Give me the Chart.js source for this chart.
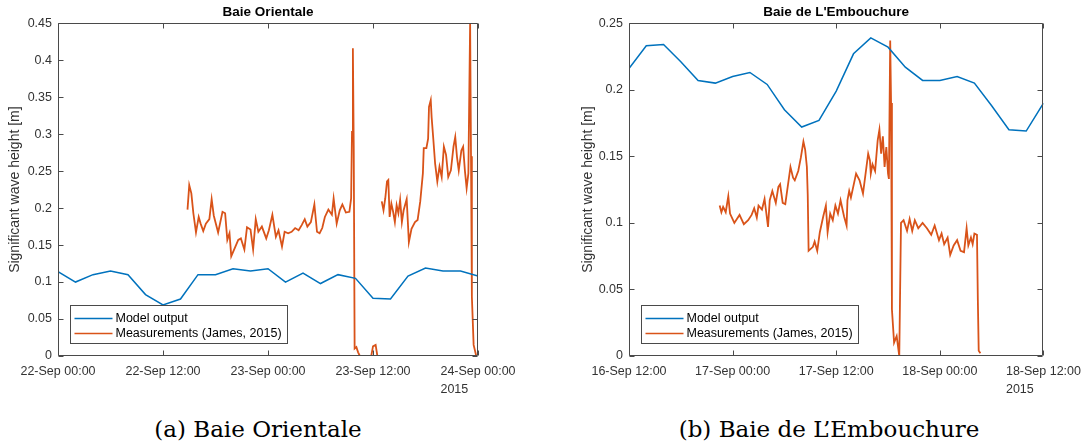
<!DOCTYPE html>
<html>
<head>
<meta charset="utf-8">
<script src="https://cdn.jsdelivr.net/npm/chart.js@4.4.1/dist/chart.umd.min.js"></script>
<style>
  body { margin: 0; background: #fff; }
  #wrap { position: relative; width: 1089px; height: 446px; overflow: hidden; }
  .panel { position: absolute; top: 0; }
  .caption { position: absolute; top: 417px; font-family: 'DejaVu Serif', serif; font-size: 23px; line-height: 24px; text-align: center; color: #000; white-space: nowrap; }
</style>
</head>
<body>
<div id="wrap">
  <canvas id="left" class="panel" width="545" height="400" style="left:0"></canvas>
  <canvas id="right" class="panel" width="544" height="400" style="left:545px"></canvas>
  <div class="caption" style="left:0;width:516px">(a) Baie Orientale</div>
  <div class="caption" style="left:600px;width:458px">(b) Baie de L’Embouchure</div>
</div>
<script>
const BLUE = '#0072BD';
const ORANGE = '#D95319';
const AXIS = '#333';

const seriesLabels = ['Model output', 'Measurements (James, 2015)'];
const yearLabel = '2015';

// hours since the first x tick
const modelHours = [0, 2, 4, 6, 8, 10, 12, 14, 16, 18, 20, 22, 24, 26, 28, 30, 32, 34, 36, 38, 40, 42, 44, 46, 48];

// Baie Orientale
const orientaleTicks = ['22-Sep 00:00', '22-Sep 12:00', '23-Sep 00:00', '23-Sep 12:00', '24-Sep 00:00'];
const orientaleModel = [0.114, 0.100, 0.110, 0.115, 0.110, 0.083, 0.069, 0.077, 0.110, 0.110, 0.118, 0.115, 0.118,
  0.100, 0.112, 0.098, 0.110, 0.105, 0.078, 0.077, 0.108, 0.119, 0.115, 0.115, 0.108];
const orientaleMeasHours = [14.8, 15.0, 15.24, 15.47, 15.77, 16.08, 16.3, 16.6, 16.9, 17.3, 17.56, 17.8, 18.3, 18.8, 19.1,
  19.35, 19.6, 19.8, 20.2, 20.6, 20.9, 21.3, 21.6, 22.0, 22.3, 22.6, 22.9, 23.3, 23.8, 24.1, 24.5, 24.9, 25.2, 25.6,
  25.9, 26.3, 26.7, 27.1, 27.5, 27.85, 28.2, 28.5, 28.9, 29.3, 29.6, 29.9, 30.2, 30.5, 30.9, 31.3, 31.5, 31.85, 32.2,
  32.5, 32.9, 33.3, 33.5, 33.6, 33.7, 33.8, 33.9, 34.1, 34.3, 34.5, 35.8, 36.0, 36.3, 36.5, 36.7,
  37.0, 37.2, 37.4, 37.6, 37.75, 37.9, 38.1, 38.3, 38.5, 38.7, 38.9, 39.1, 39.3, 39.5, 39.85, 40.1, 40.4, 40.8, 41.1,
  41.4, 41.7, 41.8, 42.1, 42.3, 42.4, 42.6, 42.7, 42.9, 43.1, 43.35, 43.6, 43.85, 44.1, 44.35, 44.6, 44.9, 45.2, 45.4,
  45.6, 45.8, 46.1, 46.3, 46.5, 46.7, 46.9, 47.0, 47.1, 47.2, 47.3, 47.5, 47.8];
const orientaleMeas = [0.198, 0.231, 0.220, 0.193, 0.167, 0.188, 0.179, 0.169, 0.179, 0.185, 0.212, 0.190, 0.167, 0.195, 0.193,
  0.157, 0.166, 0.135, 0.146, 0.157, 0.159, 0.144, 0.174, 0.171, 0.144, 0.185, 0.168, 0.175, 0.159, 0.170, 0.191, 0.161, 0.170, 0.148,
  0.168, 0.166, 0.168, 0.173, 0.170, 0.177, 0.185, 0.175, 0.181, 0.205, 0.168, 0.166, 0.173, 0.188, 0.198, 0.191, 0.213, 0.179, 0.197,
  0.205, 0.194, 0.195, 0.213, 0.303, 0.416, 0.280, 0.010, 0.012, 0.005, 0, 0, 0.013, 0.015, 0, null,
  0.209, 0.197, 0.213, 0.236, 0.238, 0.188, 0.206, 0.195, 0.181, 0.204, 0.193, 0.211, 0.181, 0.197, 0.212, 0.154, 0.172, 0.181, 0.184,
  0.209, 0.247, 0.281, 0.281, 0.294, 0.337, 0.346, 0.323, 0.292, 0.260, 0.236, 0.256, 0.242, 0.283, 0.272, 0.242, 0.251, 0.283, 0.296,
  0.269, 0.251, 0.278, 0.283, 0.251, 0.227, 0.247, 0.350, 0.450, 0.270, 0.080, 0.015, 0];

// Baie de L'Embouchure
const embouchureTicks = ['16-Sep 12:00', '17-Sep 00:00', '17-Sep 12:00', '18-Sep 00:00', '18-Sep 12:00'];
const embouchureModel = [0.216, 0.233, 0.234, 0.221, 0.207, 0.205, 0.210, 0.213, 0.204, 0.185, 0.172, 0.177, 0.199,
  0.227, 0.239, 0.232, 0.217, 0.207, 0.207, 0.210, 0.205, 0.188, 0.170, 0.169, 0.190];
const embouchureMeasHours = [10.5, 10.7, 10.9, 11.2, 11.5, 11.7, 12.2, 12.8, 13.3, 13.8, 14.2, 14.5, 14.8, 15.0, 15.4, 15.7,
  16.1, 16.3, 16.6, 17.0, 17.3, 17.5, 17.8, 18.1, 18.7, 19.0, 19.2, 19.6, 19.9, 20.2, 20.4, 20.6, 20.7, 20.8, 21.3, 21.5,
  21.8, 22.1, 22.5, 22.8, 23.0, 23.3, 23.6, 23.9, 24.2, 24.5, 24.9, 25.2, 25.3, 25.5, 25.7, 26.3, 26.7, 27.1, 27.5, 27.7,
  27.9, 28.0, 28.2, 28.5, 28.8, 29.0, 29.2, 29.4, 29.6, 29.8, 30.0, 30.1, 30.25, 30.35, 30.45, 30.7, 31.0, 31.3, 31.5,
  31.8, 32.2, 32.5, 32.8, 33.1, 33.5, 34.0, 34.5, 35.0, 35.4, 35.9, 36.2, 36.5, 36.9, 37.2, 37.6, 38.0, 38.4, 38.8, 39.1,
  39.3, 39.6, 39.8, 40.0, 40.3, 40.4, 40.5, 40.7];
const embouchureMeas = [0.113, 0.108, 0.112, 0.108, 0.120, 0.107, 0.100, 0.106, 0.099, 0.102, 0.106, 0.111, 0.104, 0.113, 0.110, 0.118,
  0.097, 0.117, 0.124, 0.115, 0.127, 0.129, 0.115, 0.114, 0.142, 0.134, 0.132, 0.139, 0.149, 0.161, 0.155, 0.142, 0.121, 0.079, 0.082, 0.086,
  0.079, 0.093, 0.105, 0.113, 0.093, 0.107, 0.102, 0.113, 0.107, 0.117, 0.105, 0.098, 0.117, 0.124, 0.119, 0.137, 0.132, 0.122, 0.142, 0.152,
  0.147, 0.137, 0.144, 0.139, 0.162, 0.170, 0.152, 0.165, 0.142, 0.157, 0.137, 0.133, 0.237, 0.190, 0.035, 0.010, 0.015, 0, 0.100,
  0.102, 0.094, 0.103, 0.094, 0.102, 0.096, 0.100, 0.096, 0.091, 0.098, 0.087, 0.092, 0.084, 0.089, 0.076, 0.083, 0.087, 0.079, 0.078, 0.096,
  0.083, 0.089, 0.084, 0.092, 0.091, 0.042, 0.004, 0.002];

const font = { family: "'Liberation Sans', Arial, sans-serif", size: 12.5 };

const zip = (xs, ys) => xs.map((x, i) => ({ x, y: ys[i] }));

// MATLAB-like box with inward ticks, legend inside the axes, year under the last tick
const matlabAxes = {
  id: 'matlabAxes',
  afterDatasetsDraw(chart) {
    const { ctx, chartArea: a, scales: { x, y } } = chart;
    const L = Math.round(a.left) + 0.5, R = Math.round(a.right) - 0.5;
    const T = Math.round(a.top) + 0.5, B = Math.round(a.bottom) - 0.5;
    ctx.save();
    ctx.strokeStyle = '#4a4a4a';
    ctx.lineWidth = 1;
    ctx.beginPath();
    ctx.rect(L, T, R - L, B - T);
    x.ticks.forEach(t => {
      const px = Math.round(x.getPixelForValue(t.value)) + 0.5;
      ctx.moveTo(px, B); ctx.lineTo(px, B - 5);
      ctx.moveTo(px, T); ctx.lineTo(px, T + 5);
    });
    y.ticks.forEach(t => {
      const py = Math.round(y.getPixelForValue(t.value)) + 0.5;
      ctx.moveTo(L, py); ctx.lineTo(L + 5, py);
      ctx.moveTo(R, py); ctx.lineTo(R - 5, py);
    });
    ctx.stroke();
    ctx.restore();
  },
  afterDraw(chart) {
    const { ctx, chartArea: a, scales: { x } } = chart;
    ctx.save();
    // legend
    const bx = Math.round(a.left) + 12.5, by = Math.round(a.bottom) - 50.5;
    ctx.fillStyle = '#fff';
    ctx.fillRect(bx, by, 217, 38);
    ctx.strokeStyle = '#4a4a4a';
    ctx.lineWidth = 1;
    ctx.strokeRect(bx, by, 217, 38);
    ctx.font = `${font.size}px ${font.family}`;
    ctx.textBaseline = 'middle';
    ctx.textAlign = 'left';
    chart.data.datasets.forEach((ds, i) => {
      const ry = by + 13 + i * 15;
      ctx.strokeStyle = ds.borderColor;
      ctx.lineWidth = 1.5;
      ctx.beginPath();
      ctx.moveTo(bx + 4, ry); ctx.lineTo(bx + 42, ry);
      ctx.stroke();
      ctx.fillStyle = '#000';
      ctx.fillText(ds.label, bx + 45, ry);
    });
    // year under the last tick label
    const last = x.ticks[x.ticks.length - 1];
    const lastLabel = Array.isArray(last.label) ? last.label[0] : last.label;
    const w = ctx.measureText(lastLabel).width;
    ctx.fillStyle = AXIS;
    ctx.fillText(yearLabel, x.getPixelForValue(last.value) - w / 2, a.bottom + 34);
    ctx.restore();
  }
};

function makeChart(id, title, ticks, model, measHours, meas, yMax, yWidth, pad) {
  new Chart(document.getElementById(id), {
    type: 'line',
    data: {
      datasets: [
        { label: seriesLabels[0], data: zip(modelHours, model), borderColor: BLUE, borderWidth: 1.5, pointRadius: 0, tension: 0 },
        { label: seriesLabels[1], data: zip(measHours, meas), borderColor: ORANGE, borderWidth: 1.8, pointRadius: 0, tension: 0, spanGaps: false }
      ]
    },
    options: {
      responsive: false,
      animation: false,
      devicePixelRatio: 1,
      layout: { padding: pad },
      plugins: {
        legend: { display: false },
        tooltip: { enabled: false },
        title: {
          display: true,
          text: title,
          fullSize: false,
          color: '#000',
          font: { family: font.family, size: 13.5, weight: 'bold' },
          padding: { top: 4, bottom: 3 }
        }
      },
      scales: {
        x: {
          type: 'linear',
          min: 0,
          max: 48,
          grid: { display: false, drawTicks: false },
          border: { display: false },
          ticks: {
            stepSize: 12,
            autoSkip: false,
            maxRotation: 0,
            padding: 8,
            color: AXIS,
            font,
            callback: v => ticks[Math.round(v / 12)]
          },
          afterFit: s => { s.height = 44; }
        },
        y: {
          min: 0,
          max: yMax,
          grid: { display: false, drawTicks: false },
          border: { display: false },
          ticks: {
            stepSize: 0.05,
            padding: 6,
            color: AXIS,
            font,
            callback: v => String(+v.toFixed(2))
          },
          title: {
            display: true,
            text: 'Significant wave height [m]',
            color: AXIS,
            font: { family: font.family, size: 14 },
            padding: { top: 6.6, bottom: 0 }
          },
          afterFit: s => { s.width = yWidth; }
        }
      }
    },
    plugins: [matlabAxes]
  });
}

makeChart('left', 'Baie Orientale', orientaleTicks, orientaleModel, orientaleMeasHours, orientaleMeas, 0.45, 58,
  { left: 0, right: 67, top: 0, bottom: 0 });
makeChart('right', "Baie de L'Embouchure", embouchureTicks, embouchureModel, embouchureMeasHours, embouchureMeas, 0.25, 56,
  { left: 28, right: 40, top: 0, bottom: 0 });
</script>
</body>
</html>
